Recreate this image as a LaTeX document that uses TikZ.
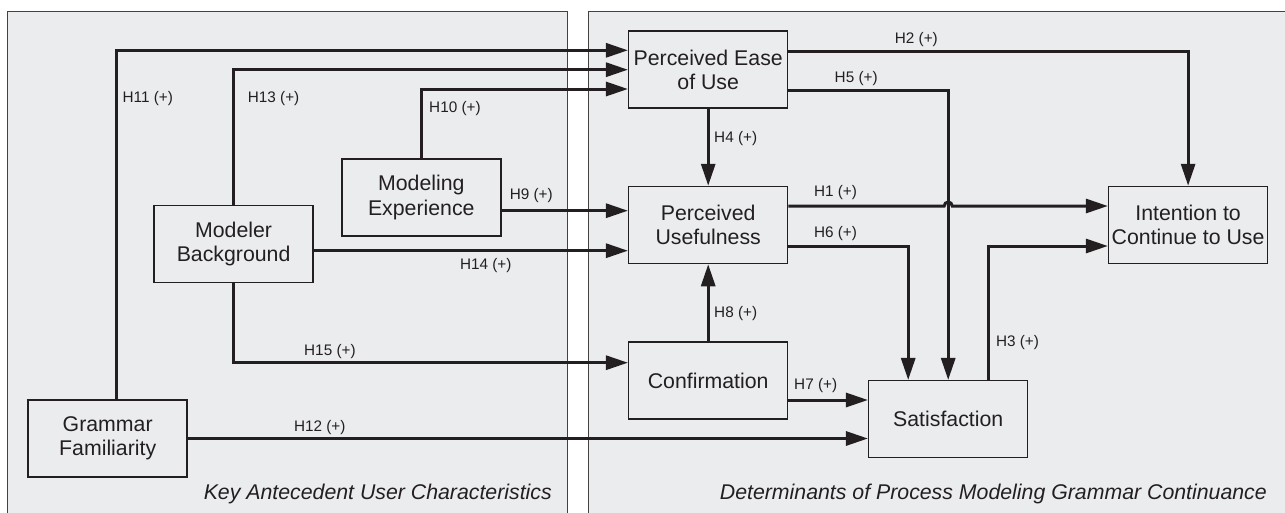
\documentclass[tikz,border=0pt]{standalone}
\usepackage{fontspec}
\setmainfont{Liberation Sans}
\usetikzlibrary{arrows.meta}
\definecolor{panelgray}{RGB}{235,236,238}
\definecolor{ink}{RGB}{35,31,32}
\tikzset{
  panel/.style={draw=ink!85, line width=1pt, fill=panelgray},
  box/.style={draw=ink, line width=1.5pt, fill=panelgray, minimum width=159pt, minimum height=77pt, inner sep=2pt, align=center, font=\fontsize{21.3}{24.5}\selectfont, text=ink},
  conn/.style={draw=ink, line width=3pt, -{Triangle[length=22pt,width=14pt]}},
  hlab/.style={anchor=west, inner sep=0pt, font=\fontsize{15.3}{18}\selectfont, text=ink},
  plab/.style={anchor=east, inner sep=0pt, font=\fontsize{21.3}{25}\selectfont\itshape, text=ink}
}
\begin{document}
\begin{tikzpicture}[x=1pt,y=-1pt]
\useasboundingbox (0,0) rectangle (1285,512);
\clip (0,0) rectangle (1285,512);
\fill[white] (0,0) rectangle (1285,512);
% panels
\path[panel] (7.5,11) rectangle (567.5,530);
\path[panel] (588.5,11) rectangle (1300,530);
\node[plab] (plabL) at (552,494) {Key Antecedent User Characteristics};
\node[plab] (plabR) at (1267,494) {Determinants of Process Modeling Grammar Continuance};
% boxes
\node[box] (PEU) at (708.2,69.7) {Perceived Ease\\of Use};
\node[box] (PU) at (708.2,225) {Perceived\\Usefulness};
\node[box] (CF) at (708.2,380.5) {Confirmation};
\node[box] (SAT) at (948.2,419.2) {Satisfaction};
\node[box] (ITC) at (1188.1,225) {Intention to\\Continue to Use};
\node[box] (ME) at (421.3,197.4) {Modeling\\Experience};
\node[box] (MB) at (233.6,243.9) {Modeler\\Background};
\node[box] (GF) at (107.7,438.5) {Grammar\\Familiarity};
% connectors
\draw[conn] ([xshift=8.6pt]GF.north) |- ([yshift=19.4pt]PEU.west);
\draw[conn] (MB.north) |- (PEU.west);
\draw[conn] (ME.north) |- ([yshift=-19.3pt]PEU.west);
\draw[conn] ([yshift=-13.3pt]ME.east) -- ([yshift=-13.3pt]ME.east -| PU.west);
\draw[conn] ([yshift=-6.8pt]MB.east) -- ([yshift=-6.8pt]MB.east -| PU.west);
\draw[conn] (MB.south) |- ([yshift=17.8pt]CF.west);
\draw[conn] (GF.east) -- (GF.east -| SAT.west);
\draw[conn] ([yshift=18pt]PEU.east) -| (ITC.north);
\draw[conn] ([yshift=-20.3pt]PEU.east) -| (SAT.north);
\draw[conn] (PEU.south) -- (PU.north);
\coordinate (hop) at ([yshift=19pt]PU.east -| SAT.north);
\draw[conn] ([yshift=19pt]PU.east) -- ([xshift=-4pt]hop) arc[start angle=180,end angle=0,radius=4pt] -- ([yshift=19pt]PU.east -| ITC.west);
\draw[conn] ([yshift=-21pt]PU.east) -| ([xshift=-40pt]SAT.north);
\draw[conn] ([xshift=40.5pt]SAT.north) |- ([yshift=-21pt]ITC.west);
\draw[conn] (CF.north) -- (PU.south);
\draw[conn] ([yshift=-19.5pt]CF.east) -- ([yshift=-19.5pt]CF.east -| SAT.west);
% labels
\node[hlab] (h11) at (122.4,99) {H11 (+)};
\node[hlab] (h13) at (247.7,99) {H13 (+)};
\node[hlab] (h10) at (429,108.3) {H10 (+)};
\node[hlab] (h9) at (509.6,195.7) {H9 (+)};
\node[hlab] (h14) at (459.8,265.3) {H14 (+)};
\node[hlab] (h15) at (304,351.7) {H15 (+)};
\node[hlab] (h12) at (293.8,427.3) {H12 (+)};
\node[hlab] (h2) at (894.7,40) {H2 (+)};
\node[hlab] (h5) at (834.5,79) {H5 (+)};
\node[hlab] (h4) at (714,139) {H4 (+)};
\node[hlab] (h1) at (813.8,192.3) {H1 (+)};
\node[hlab] (h6) at (813.8,233.3) {H6 (+)};
\node[hlab] (h8) at (714,313.3) {H8 (+)};
\node[hlab] (h3) at (995.9,342.7) {H3 (+)};
\node[hlab] (h7) at (794,386) {H7 (+)};
\end{tikzpicture}
\end{document}
